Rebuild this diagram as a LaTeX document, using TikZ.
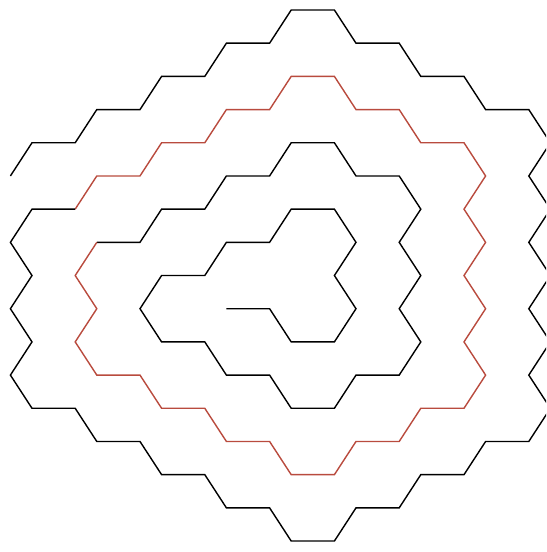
\documentclass[tikz,border=0pt]{standalone}
\usepackage{xcolor}
\usepackage{tikz}

\definecolor{ringred}{RGB}{185,75,62}

\begin{document}
\begin{tikzpicture}[
            x=0.432cm, y=-0.6638cm,
            wall/.style={draw=black, line width=0.8pt},
            ring/.style={draw=ringred, line width=0.8pt},
        ]
            \useasboundingbox (-1.4815,-0.3013) rectangle (23.7963,16.3302);
            \clip (-1.4815,-0.3013) rectangle (23.7963,16.3302);
            % inner turn
            \draw[wall] (9,9) -- (11,9) -- (12,10) -- (14,10) -- (15,9) -- (14,8) -- (15,7) -- (14,6)
                -- (12,6) -- (11,7) -- (9,7) -- (8,8) -- (6,8) -- (5,9) -- (6,10) -- (8,10)
                -- (9,11) -- (11,11) -- (12,12) -- (14,12) -- (15,11) -- (17,11) -- (18,10)
                -- (17,9) -- (18,8) -- (17,7) -- (18,6) -- (17,5) -- (15,5) -- (14,4) -- (12,4)
                -- (11,5) -- (9,5) -- (8,6) -- (6,6) -- (5,7) -- (3,7);
            % red turn
            \draw[ring] (3,7) -- (2,8) -- (3,9) -- (2,10) -- (3,11) -- (5,11) -- (6,12) -- (8,12)
                -- (9,13) -- (11,13) -- (12,14) -- (14,14) -- (15,13) -- (17,13) -- (18,12)
                -- (20,12) -- (21,11) -- (20,10) -- (21,9) -- (20,8) -- (21,7) -- (20,6) -- (21,5)
                -- (20,4) -- (18,4) -- (17,3) -- (15,3) -- (14,2) -- (12,2) -- (11,3) -- (9,3)
                -- (8,4) -- (6,4) -- (5,5) -- (3,5) -- (2,6);
            % outer turn
            \draw[wall] (2,6) -- (0,6) -- (-1,7) -- (0,8) -- (-1,9) -- (0,10) -- (-1,11) -- (0,12)
                -- (2,12) -- (3,13) -- (5,13) -- (6,14) -- (8,14) -- (9,15) -- (11,15) -- (12,16)
                -- (14,16) -- (15,15) -- (17,15) -- (18,14) -- (20,14) -- (21,13) -- (23,13)
                -- (24,12) -- (23,11) -- (24,10) -- (23,9) -- (24,8) -- (23,7) -- (24,6) -- (23,5)
                -- (24,4) -- (23,3) -- (21,3) -- (20,2) -- (18,2) -- (17,1) -- (15,1) -- (14,0)
                -- (12,0) -- (11,1) -- (9,1) -- (8,2) -- (6,2) -- (5,3) -- (3,3) -- (2,4) -- (0,4)
                -- (-1,5);
        \end{tikzpicture}
\end{document}
